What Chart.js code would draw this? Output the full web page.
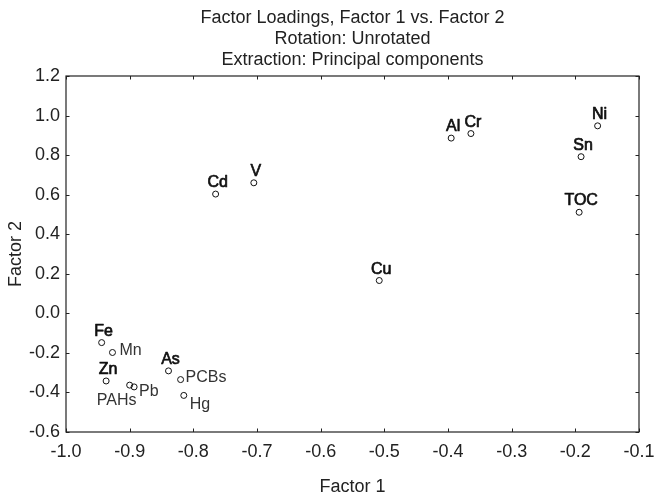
<!DOCTYPE html>
<html><head><meta charset="utf-8">
<script src="https://cdn.jsdelivr.net/npm/chart.js@4"></script>
<style>html,body{margin:0;padding:0;background:#fff;}</style>
</head><body>
<canvas id="c" width="654" height="499"></canvas>
<script>
// ---- data ----
const variables = ['Fe','Mn','Zn','PAHs','Pb','As','PCBs','Hg','Cd','V','Cu','Al','Cr','Sn','TOC','Ni'];
const factor1 = [-0.944,-0.927,-0.937,-0.900,-0.893,-0.839,-0.820,-0.815,-0.765,-0.705,-0.508,-0.395,-0.364,-0.191,-0.194,-0.165];
const factor2 = [-0.148,-0.198,-0.342,-0.363,-0.372,-0.291,-0.335,-0.415,0.603,0.660,0.166,0.886,0.909,0.792,0.511,0.948];
const xTickValues = [-1.0,-0.9,-0.8,-0.7,-0.6,-0.5,-0.4,-0.3,-0.2,-0.1];
const xTickLabels = ['-1.0','-0.9','-0.8','-0.7','-0.6','-0.5','-0.4','-0.3','-0.2','-0.1'];
const yTickValues = [-0.6,-0.4,-0.2,0.0,0.2,0.4,0.6,0.8,1.0,1.2];
const yTickLabels = ['-0.6','-0.4','-0.2','0.0','0.2','0.4','0.6','0.8','1.0','1.2'];
const titleLines = ['Factor Loadings, Factor 1 vs. Factor 2','Rotation: Unrotated','Extraction: Principal components'];
const xTitle = 'Factor 1';
const yTitle = 'Factor 2';

// ---- label placement (style) ----
const FONT = '"Liberation Sans", Arial, Helvetica, sans-serif';
const placement = { Mn:'right', PCBs:'rightUp', Pb:'rightDown', PAHs:'belowLeft', Hg:'belowRight' };
const placeStyle = {
  above:      {align:'center', dx:2,   dy:-7,   strong:true},
  right:      {align:'left',   dx:7,   dy:3,    strong:false},
  rightUp:    {align:'left',   dx:5,   dy:2,    strong:false},
  rightDown:  {align:'left',   dx:5,   dy:9,    strong:false},
  belowLeft:  {align:'center', dx:-13, dy:20,   strong:false},
  belowRight: {align:'left',   dx:6,   dy:13.5, strong:false}
};

const pointLabels = {
  id:'pointLabels',
  afterDatasetsDraw(chart){
    const ctx = chart.ctx;
    const meta = chart.getDatasetMeta(0);
    ctx.save();
    ctx.textBaseline = 'alphabetic';
    ctx.lineJoin = 'round';
    meta.data.forEach((el, i) => {
      const name = variables[i];
      const st = placeStyle[placement[name] || 'above'];
      ctx.font = '16px ' + FONT;
      ctx.textAlign = st.align;
      const tx = el.x + st.dx, ty = el.y + st.dy;
      if (st.strong) {
        ctx.fillStyle = '#111';
        ctx.strokeStyle = '#111';
        ctx.lineWidth = 0.7;
        ctx.fillText(name, tx, ty);
        ctx.strokeText(name, tx, ty);
      } else {
        ctx.fillStyle = '#333';
        ctx.fillText(name, tx, ty);
      }
    });
    ctx.restore();
  }
};

const frame = {
  id:'frame',
  afterDraw(chart){
    const {ctx, chartArea:a, scales} = chart;
    ctx.save();
    ctx.strokeStyle = '#222';
    ctx.lineWidth = 1.2;
    ctx.strokeRect(a.left, a.top, a.right - a.left, a.bottom - a.top);
    ctx.lineWidth = 1;
    const tl = 3.5;
    ctx.beginPath();
    xTickValues.forEach(v => {
      const px = Math.round(scales.x.getPixelForValue(v)) + 0.5;
      ctx.moveTo(px, a.bottom); ctx.lineTo(px, a.bottom - tl);
      ctx.moveTo(px, a.top); ctx.lineTo(px, a.top + tl);
    });
    yTickValues.forEach(v => {
      const py = Math.round(scales.y.getPixelForValue(v)) + 0.5;
      ctx.moveTo(a.left, py); ctx.lineTo(a.left + tl, py);
      ctx.moveTo(a.right, py); ctx.lineTo(a.right - tl, py);
    });
    ctx.stroke();
    // title centred over the plot area
    ctx.fillStyle = '#222';
    ctx.font = '18px ' + FONT;
    ctx.textAlign = 'center';
    ctx.textBaseline = 'alphabetic';
    const cx = (a.left + a.right) / 2;
    const baselines = [22.5, 43.5, 65];
    titleLines.forEach((t, i) => ctx.fillText(t, cx, baselines[i]));
    ctx.restore();
  }
};

new Chart(document.getElementById('c'), {
  type:'scatter',
  data:{
    datasets:[{
      data: variables.map((v,i) => ({x:factor1[i], y:factor2[i]})),
      pointStyle:'circle',
      pointRadius:3,
      pointBorderWidth:1,
      borderColor:'#111',
      backgroundColor:'rgba(255,255,255,0)',
      clip:false
    }]
  },
  options:{
    responsive:false,
    animation:false,
    devicePixelRatio:1,
    layout:{padding:{top:76, right:15, left:0, bottom:0}},
    plugins:{legend:{display:false}, tooltip:{enabled:false}, title:{display:false}},
    scales:{
      x:{
        type:'linear', position:'bottom', min:-1.0, max:-0.1,
        grid:{display:false, drawTicks:false},
        border:{display:false},
        afterBuildTicks: s => { s.ticks = xTickValues.map(v => ({value:v})); },
        ticks:{
          font:{size:18, family:FONT}, color:'#222', padding:9, maxRotation:0,
          callback:(v, i) => xTickLabels[i]
        },
        title:{display:true, text:xTitle, font:{size:18, family:FONT}, color:'#222', padding:{top:0, bottom:1}},
        afterFit: s => { s.height = 67; s.paddingLeft = 0; s.paddingRight = 0; }
      },
      y:{
        type:'linear', position:'left', min:-0.6, max:1.2,
        grid:{display:false, drawTicks:false},
        border:{display:false},
        afterBuildTicks: s => { s.ticks = yTickValues.map(v => ({value:v})); },
        ticks:{
          font:{size:18, family:FONT}, color:'#222', padding:6,
          callback:(v, i) => yTickLabels[i]
        },
        title:{display:true, text:yTitle, font:{size:18, family:FONT}, color:'#222', padding:{top:5, bottom:0}},
        afterFit: s => { s.width = 66; s.paddingTop = 0; s.paddingBottom = 0; }
      }
    }
  },
  plugins:[pointLabels, frame]
});
</script>
</body></html>
